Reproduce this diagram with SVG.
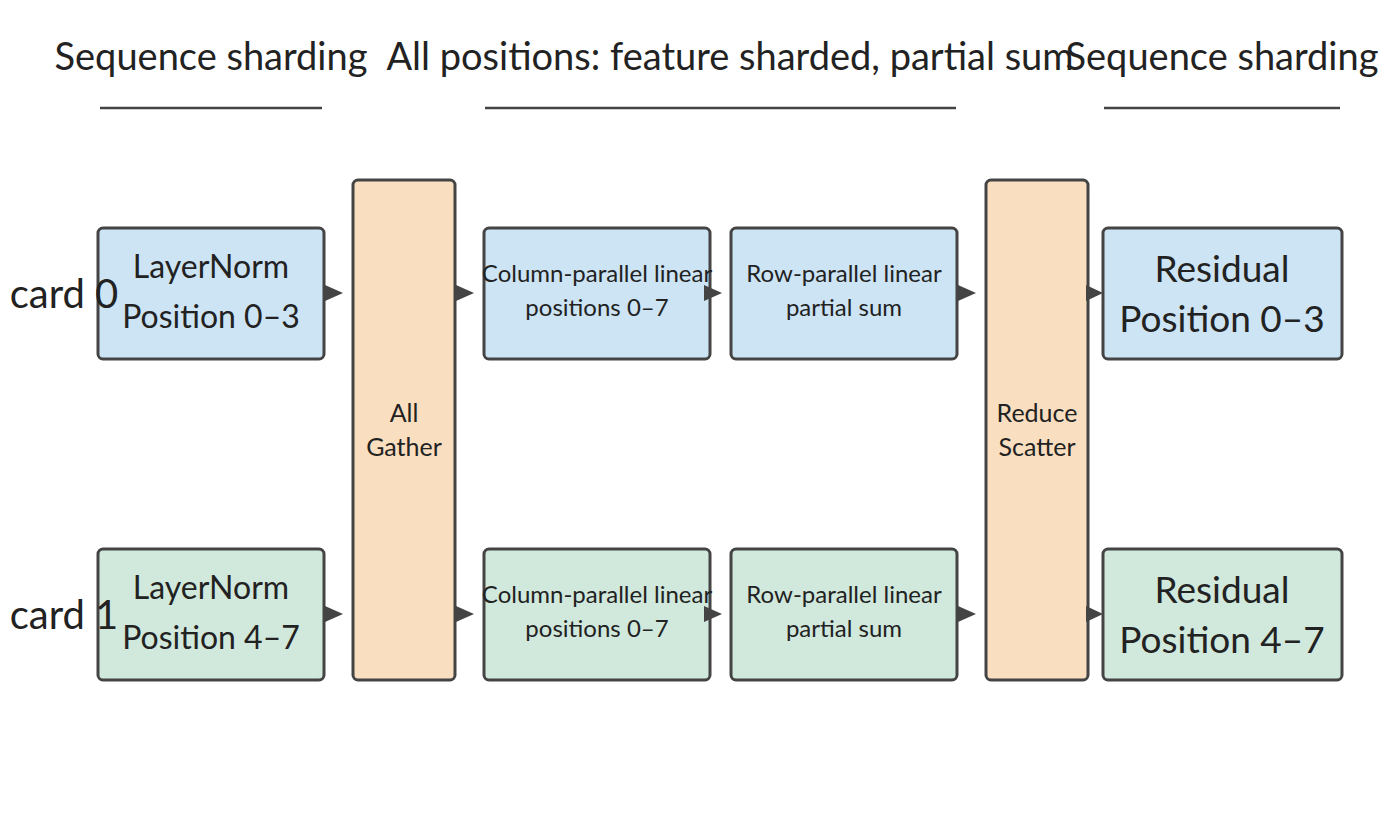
<svg xmlns="http://www.w3.org/2000/svg" width="1400" height="813" viewBox="0 0 1400 813">
<style>
text{font-family:Lato,"Source Sans Pro","Noto Sans",sans-serif;fill:#222;text-anchor:middle}
.b{fill:#cde4f4;stroke:#444;stroke-width:3}
.g{fill:#d1e8dc;stroke:#444;stroke-width:3}
.o{fill:#f9dec0;stroke:#444;stroke-width:3}
.h{font-size:38px}
.l{stroke:#444;stroke-width:2.5}
.a{fill:#444}
</style>
<rect width="1400" height="813" fill="#fff"/>
<g id="headers">
<text class="h" x="211" y="70">Sequence sharding</text>
<line class="l" x1="100" y1="108" x2="322" y2="108"/>
<text class="h" x="730" y="70">All positions: feature sharded, partial sum</text>
<line class="l" x1="485" y1="108" x2="956" y2="108"/>
<text class="h" x="1222" y="70">Sequence sharding</text>
<line class="l" x1="1104" y1="108" x2="1340" y2="108"/>
</g>
<g id="ln0"><rect class="b" x="98" y="228" width="226" height="131" rx="5"/><text x="211" y="278" font-size="32">LayerNorm</text><text x="211" y="328" font-size="32">Position 0–3</text></g>
<g id="ln1"><rect class="g" x="98" y="549" width="226" height="131" rx="5"/><text x="211" y="599" font-size="32">LayerNorm</text><text x="211" y="649" font-size="32">Position 4–7</text></g>
<g id="ag"><rect class="o" x="353" y="180" width="102" height="500" rx="5"/><text x="404" y="422" font-size="25">All</text><text x="404" y="456" font-size="25">Gather</text></g>
<g id="col0"><rect class="b" x="484" y="228" width="226" height="131" rx="5"/><text x="597" y="282" font-size="24">Column-parallel linear</text><text x="597" y="316" font-size="24">positions 0–7</text></g>
<g id="col1"><rect class="g" x="484" y="549" width="226" height="131" rx="5"/><text x="597" y="603" font-size="24">Column-parallel linear</text><text x="597" y="637" font-size="24">positions 0–7</text></g>
<g id="row0"><rect class="b" x="731" y="228" width="226" height="131" rx="5"/><text x="844" y="282" font-size="24">Row-parallel linear</text><text x="844" y="316" font-size="24">partial sum</text></g>
<g id="row1"><rect class="g" x="731" y="549" width="226" height="131" rx="5"/><text x="844" y="603" font-size="24">Row-parallel linear</text><text x="844" y="637" font-size="24">partial sum</text></g>
<g id="rs"><rect class="o" x="986" y="180" width="102" height="500" rx="5"/><text x="1037" y="422" font-size="25">Reduce</text><text x="1037" y="456" font-size="25">Scatter</text></g>
<g id="res0"><rect class="b" x="1103" y="228" width="239" height="131" rx="5"/><text x="1222" y="282" font-size="37">Residual</text><text x="1222" y="332" font-size="37">Position 0–3</text></g>
<g id="res1"><rect class="g" x="1103" y="549" width="239" height="131" rx="5"/><text x="1222" y="603" font-size="37">Residual</text><text x="1222" y="653" font-size="37">Position 4–7</text></g>
<g id="labels"><text x="64" y="308" font-size="40">card 0</text><text x="64" y="629" font-size="40">card 1</text></g>
<g id="connectors">
<polygon class="a" points="325,285 343,293 325,301"/>
<polygon class="a" points="456,285 474,293 456,301"/>
<polygon class="a" points="704,285 722,293 704,301"/>
<polygon class="a" points="958,285 976,293 958,301"/>
<polygon class="a" points="1086,285 1103,293 1086,301"/>
<polygon class="a" points="325,606 343,614 325,622"/>
<polygon class="a" points="456,606 474,614 456,622"/>
<polygon class="a" points="704,606 722,614 704,622"/>
<polygon class="a" points="958,606 976,614 958,622"/>
<polygon class="a" points="1086,606 1103,614 1086,622"/>
</g>
</svg>
